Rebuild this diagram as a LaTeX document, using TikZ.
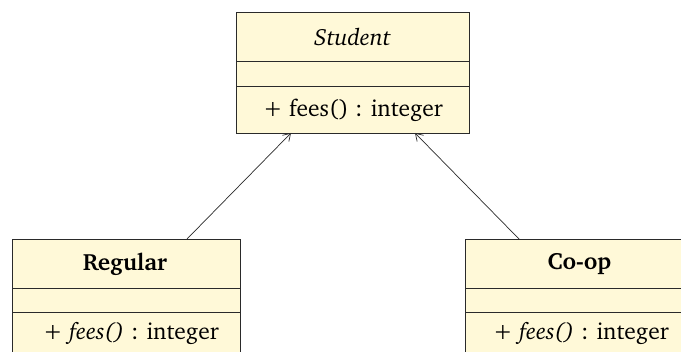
\documentclass[tikz,border=0pt]{standalone}
\usepackage[T1]{fontenc}
\usepackage{charter}
\usetikzlibrary{arrows.meta}
\definecolor{umlfill}{HTML}{FFF9D8}
\definecolor{umlline}{HTML}{2A2A2A}
\begin{document}
\begin{tikzpicture}[x=1pt,y=-1pt,
  classbox/.style={draw=umlline,fill=umlfill,line width=0.9pt},
  sepline/.style={draw=umlline,line width=0.9pt},
  txt/.style={font=\fontsize{23.5}{26}\selectfont,inner sep=0pt},
  gen/.style={draw=umlline,line width=0.7pt,-{Straight Barb[length=7pt,width=9pt,line width=0.7pt]}}]
\useasboundingbox (0,0) rectangle (681,352);
% Student
\draw[classbox] (236,12) rectangle (469,133);
\draw[sepline] (236,61) -- (469,61);
\draw[sepline] (236,86) -- (469,86);
\node[txt] (stname) at (352.5,37) {\itshape Student};
\node[txt] (stop) at (353,110) {+ fees() : integer};
% Regular
\draw[classbox] (12,239) rectangle (240,365);
\draw[sepline] (12,288) -- (240,288);
\draw[sepline] (12,312) -- (240,312);
\node[txt] (regname) at (125,264) {\bfseries Regular};
\node[txt] (regop) at (131,333) {+ \textit{fees()} : integer};
% Co-op
\draw[classbox] (465,239) rectangle (697,365);
\draw[sepline] (465,288) -- (697,288);
\draw[sepline] (465,312) -- (697,312);
\node[txt] (coname) at (579.5,264) {\bfseries Co-op};
\node[txt] (coop) at (581,333) {+ \textit{fees()} : integer};
% connectors
\coordinate (regtop) at (187,239);
\coordinate (cotop) at (519,239);
\coordinate (sttipl) at (291,133);
\coordinate (sttipr) at (415,133);
\draw[gen] (regtop) -- (sttipl);
\draw[gen] (cotop) -- (sttipr);
\end{tikzpicture}
\end{document}
